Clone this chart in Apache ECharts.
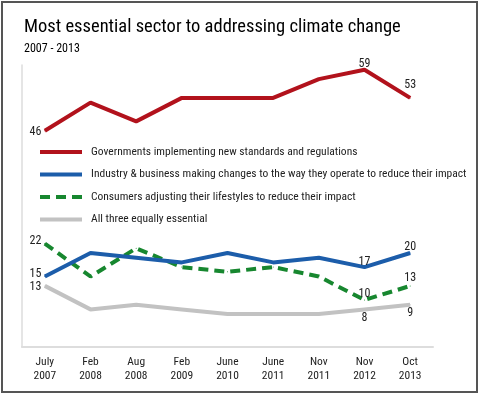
<!DOCTYPE html>
<html><head><meta charset="utf-8">
<script src="https://cdn.jsdelivr.net/npm/echarts@6/dist/echarts.min.js"></script>
<style>html,body{margin:0;padding:0;background:#fff}#c{width:480px;height:394px}</style>
</head><body><div id="c"></div>
<script>
const categories = ['July\n2007','Feb\n2008','Aug\n2008','Feb\n2009','June\n2010','June\n2011','Nov\n2011','Nov\n2012','Oct\n2013'];
const governments = [46, 52, 48, 53, 53, 53, 57, 59, 53];
const industry = [15, 20, 19, 18, 20, 18, 19, 17, 20];
const consumers = [22, 15, 21, 17, 16, 17, 15, 10, 13];
const allThree = [13, 8, 9, 8, 7, 7, 7, 8, 9];
const seriesNames = [
  'Governments implementing new standards and regulations',
  'Industry & business making changes to the way they operate to reduce their impact',
  'Consumers adjusting their lifestyles to reduce their impact',
  'All three equally essential'
];

const FONT = '"Roboto Condensed", "Liberation Sans", Arial, sans-serif';

// which points carry a value label: [position, dx, dy]
const labelSpec = [
  {0:['left',0,1],  7:['top',0,1],  8:['top',0,-6]},
  {0:['left',0,-3], 7:['top',0,1],  8:['top',0,0]},
  {0:['left',0,-3], 7:['top',0,0],  8:['top',0,-1]},
  {0:['left',0,1],  7:['bottom',0,2], 8:['bottom',0,2]}
];

function build(values, idx) {
  return values.map((v, i) => {
    const s = labelSpec[idx][i];
    if (!s) return {value: v};
    return {value: v, label: {show: true, position: s[0], distance: s[0] === 'left' ? 3 : 0, offset: [s[1], s[2]]}};
  });
}

const colors = ['#B2121C', '#1C5DAA', '#17872F', '#C2C2C2'];
const allData = [governments, industry, consumers, allThree];

const chart = echarts.init(document.getElementById('c'), null, {renderer: 'canvas'});
chart.setOption({
  animation: false,
  textStyle: {fontFamily: FONT},
  title: {
    text: 'Most essential sector to addressing climate change',
    subtext: '2007 - 2013',
    left: 19, top: 13,
    textStyle: {fontFamily: FONT, fontSize: 18.5, fontWeight: 'normal', color: '#000'},
    subtextStyle: {fontFamily: FONT, fontSize: 12, color: '#000'},
    itemGap: 6
  },
  legend: {
    orient: 'vertical',
    left: 38, top: 146, padding: 0,
    itemWidth: 42, itemHeight: 4,
    itemGap: 10.5,
    itemStyle: {opacity: 0},
    lineStyle: {width: 4},
    textStyle: {fontFamily: FONT, fontSize: 11.5, color: '#222', padding: [0,0,0,4]},
    data: seriesNames
  },
  graphic: [{
    type: 'rect', shape: {x: 2, y: 2, width: 475, height: 390},
    style: {fill: 'none', stroke: '#555', lineWidth: 2}, silent: true
  }],
  grid: {left: 22, right: 47, top: 65, bottom: 47},
  xAxis: {
    type: 'category', data: categories, boundaryGap: true,
    axisLine: {show: true, lineStyle: {color: '#DDDDDD', width: 2}},
    axisTick: {show: false},
    axisLabel: {fontFamily: FONT, fontSize: 11.5, color: '#222', lineHeight: 14, margin: 8, interval: 0}
  },
  yAxis: {
    type: 'value', min: 0, max: 60, interval: 10,
    axisLine: {show: true, lineStyle: {color: '#DDDDDD', width: 1.5}},
    axisTick: {show: false}, axisLabel: {show: false}, splitLine: {show: false}
  },
  series: allData.map((vals, i) => ({
    name: seriesNames[i], type: 'line', data: build(vals, i),
    symbol: 'circle', symbolSize: 1, showSymbol: true,
    itemStyle: {color: colors[i]},
    color: colors[i],
    lineStyle: {color: colors[i], width: 4, type: i === 2 ? [10, 6] : 'solid'},
    label: {fontFamily: FONT, fontSize: 12, color: '#222'},
    z: 10 - i
  }))
});
</script></body></html>
